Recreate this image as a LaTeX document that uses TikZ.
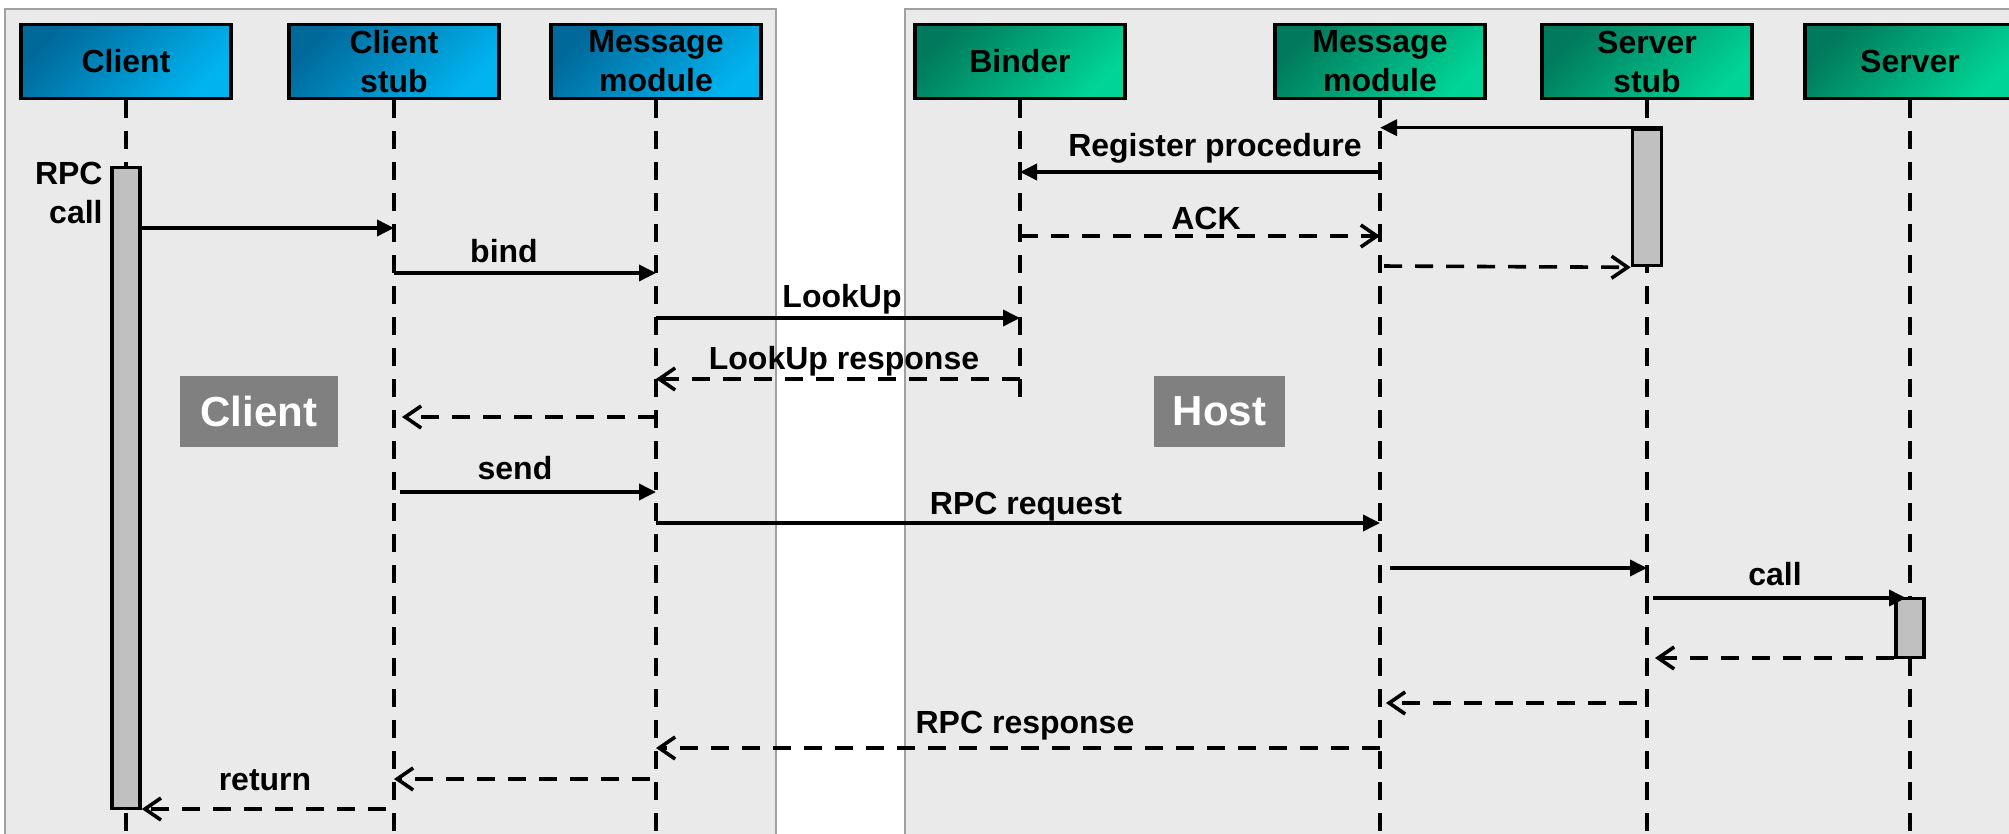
\documentclass[tikz,border=0pt]{standalone}
\usepackage{fontspec}
\setmainfont{Liberation Sans}
\usetikzlibrary{arrows.meta}
\definecolor{panel}{HTML}{EAEAEA}
\definecolor{panelborder}{HTML}{A0A0A0}
\definecolor{blueD}{HTML}{00699A}
\definecolor{blueL}{HTML}{00B4F0}
\definecolor{greenD}{HTML}{007A5C}
\definecolor{greenL}{HTML}{00D496}
\definecolor{actfill}{HTML}{C0C0C0}
\definecolor{tagfill}{HTML}{808080}
\begin{document}
\begin{tikzpicture}[x=0.5pt,y=-0.5pt,
  lblfont/.style={font=\bfseries\fontsize{16}{19.5}\selectfont},
  head/.style={draw=black, line width=1.8pt, minimum width=105pt, minimum height=37pt,
    inner sep=0pt, align=center, lblfont},
  headL/.style={head, top color=blueD, bottom color=blueL, shading angle=45},
  headR/.style={head, top color=greenD, bottom color=greenL, shading angle=45},
  panelbox/.style={fill=panel, draw=panelborder, line width=1pt},
  tag/.style={fill=tagfill, text=white, inner sep=0pt, minimum height=35.5pt,
    font=\bfseries\fontsize{21}{25}\selectfont},
  life/.style={line width=1.9pt, dash pattern=on 9pt off 6.5pt},
  act/.style={draw=black, fill=actfill, line width=1.8pt, inner sep=0pt},
  msg/.style={line width=1.8pt, -{Triangle[length=8.5pt,width=8pt]}},
  ret/.style={line width=1.8pt, dash pattern=on 9pt off 6.5pt,
    -{Straight Barb[length=8pt,width=11pt]}},
  lbl/.style={lblfont, inner sep=0pt}]
\useasboundingbox (0,0) rectangle (2009,834);
\clip (0,0) rectangle (2009,834);
% panels
\fill[white] (0,0) rectangle (2009,834);
\draw[panelbox] (5,9) rectangle (776,850);
\draw[panelbox] (905,9) rectangle (2040,850);
% tags
\node[tag, minimum width=79pt] (tagC) at (259,411.5) {Client};
\node[tag, minimum width=65.5pt] (tagH) at (1219.5,411.5) {Host};
% heads
\node[headL] (hC)  at (126,61.5)  {Client};
\node[headL] (hCS) at (394,61.5)  {Client\\stub};
\node[headL] (hMM) at (656,61.5)  {Message\\module};
\node[headR] (hB)  at (1020,61.5) {Binder};
\node[headR] (hMR) at (1380,61.5) {Message\\module};
\node[headR] (hSS) at (1647,61.5) {Server\\stub};
\node[headR] (hS)  at (1910,61.5) {Server};
% lifelines
\coordinate (eC)  at (126,840);
\coordinate (eCS) at (394,840);
\coordinate (eMM) at (656,840);
\coordinate (eB)  at (1020,408);
\coordinate (eMR) at (1380,840);
\coordinate (eSS) at (1647,840);
\coordinate (eS)  at (1910,840);
\draw[life] (hC.south)  -- (eC);
\draw[life] (hCS.south) -- (eCS);
\draw[life] (hMM.south) -- (eMM);
\draw[life] (hB.south)  -- (eB);
\draw[life] (hMR.south) -- (eMR);
\draw[life] (hSS.south) -- (eSS);
\draw[life] (hS.south)  -- (eS);
% activations
\node[act, minimum width=14pt, minimum height=320.5pt] (aC) at (126,488) {};
\node[act, minimum width=14.5pt, minimum height=68pt] (aSS) at (1647,197.5) {};
\node[act, minimum width=14pt, minimum height=29.5pt] (aS) at (1910,628) {};
% RPC call label
\node[lbl, align=right, anchor=east] (lrpc) at (103,193) {RPC\\call};
% messages
\draw[msg] (aC.east |- 0,228) -- (hCS |- 0,228);
\draw[msg] (hCS |- 0,273) -- (hMM |- 0,273);
\node[lbl, anchor=base] (lbind) at (504,263) {bind};
\draw[msg] (hMM |- 0,318) -- (hB |- 0,318);
\node[lbl, anchor=base] (llookup) at (842,307) {LookUp};
\draw[ret] (hB |- 0,379) -- (hMM |- 0,379);
\node[lbl, anchor=base] (llookupr) at (844,370) {LookUp response};
\draw[ret, shorten >=4pt] (hMM |- 0,417) -- (hCS |- 0,417);
\draw[msg, shorten <=3pt] (hCS |- 0,492) -- (hMM |- 0,492);
\node[lbl, anchor=base] (lsend) at (515,480) {send};
\draw[msg] (hMM |- 0,523) -- (hMR |- 0,523);
\node[lbl, anchor=base] (lreq) at (1026,514) {RPC request};
\draw[msg, shorten <=5pt] (hMR |- 0,568) -- (hSS |- 0,568);
\draw[msg, shorten <=3pt, shorten >=2pt] (hSS |- 0,598) -- (hS |- 0,598);
\node[lbl, anchor=base] (lcall) at (1775,585) {call};
\draw[ret, shorten >=4pt] (aS.west |- 0,658) -- (hSS |- 0,658);
\draw[ret, shorten <=5pt, shorten >=3pt] (hSS |- 0,703) -- (hMR |- 0,703);
\draw[ret] (hMR |- 0,748) -- (hMM |- 0,748);
\node[lbl, anchor=base] (lresp) at (1025,733) {RPC response};
\draw[ret, shorten <=3pt] (hMM |- 0,779) -- (hCS |- 0,779);
\draw[ret, shorten <=4pt] (hCS |- 0,809) -- (aC.east |- 0,809);
\node[lbl, anchor=base] (lret) at (265,790) {return};
% registration
\draw[msg] (aSS.north east) -- (hMR |- aSS.north);
\draw[msg] (hMR |- 0,172) -- (hB |- 0,172);
\node[lbl, anchor=base] (lreg) at (1215,157) {Register procedure};
\draw[ret] (hB |- 0,236) -- (hMR |- 0,236);
\node[lbl, anchor=base] (lack) at (1206,230) {ACK};
\draw[ret, shorten <=2pt] (hMR |- 0,266) -- (aSS.south west);
\end{tikzpicture}
\end{document}
